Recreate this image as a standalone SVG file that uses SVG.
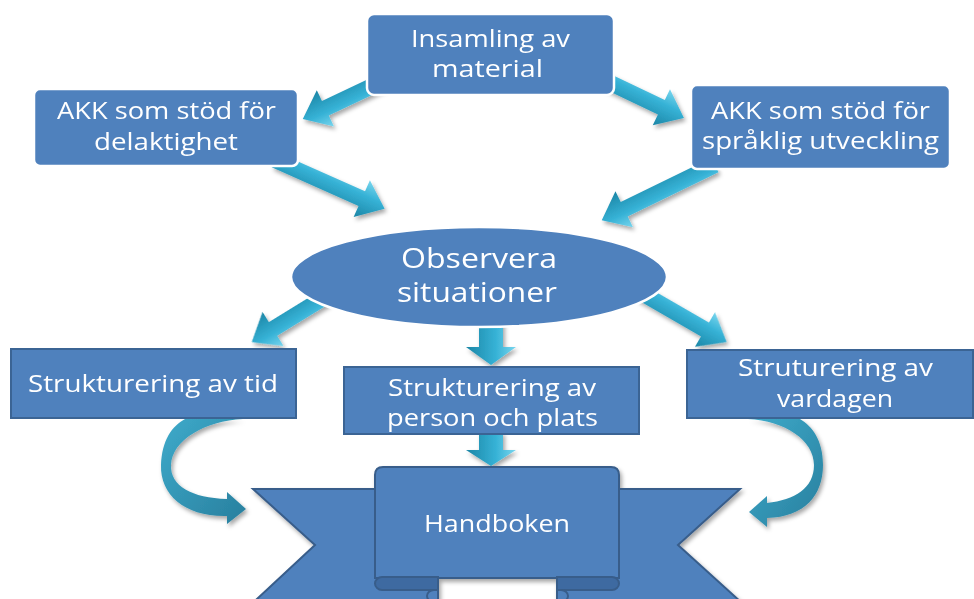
<svg xmlns="http://www.w3.org/2000/svg" width="974" height="599" viewBox="0 0 974 599">
<style>
.box{fill:#4F81BD;stroke:#fff;stroke-width:2.5}
.box2{fill:#4F81BD;stroke:#3B6494;stroke-width:2}
.t{font-family:"Open Sans","Noto Sans","DejaVu Sans",sans-serif;font-size:24px;fill:#fff}
.tb{font-size:27px}
.arr{fill:url(#ag)}
.curve{fill:url(#cg)}
.rib{fill:#4F81BD;stroke:#385D8A;stroke-width:2}
.fold{fill:#3E6AA1;stroke:#385D8A;stroke-width:2}
.curl{fill:none;stroke:#385D8A;stroke-width:2}
</style>
<defs>
<linearGradient id="ag" x1="0" y1="0" x2="0" y2="1">
<stop offset="0" stop-color="#7AD6EE"/>
<stop offset="0.4" stop-color="#36B2D6"/>
<stop offset="1" stop-color="#1C86A6"/>
</linearGradient>
<linearGradient id="cg" x1="0" y1="0" x2="1" y2="1">
<stop offset="0" stop-color="#3EAACA"/>
<stop offset="1" stop-color="#287F9E"/>
</linearGradient>
<filter id="sh" x="-10%" y="-10%" width="130%" height="130%">
<feDropShadow dx="2" dy="3" stdDeviation="2" flood-color="#000" flood-opacity="0.35"/>
</filter>
</defs>
<rect width="974" height="599" fill="#fff"/>

<g id="connectors" filter="url(#sh)">
<polygon class="arr" transform="translate(385,80) rotate(154.6)" points="0,-8 66,-8 66,-20 91,0 66,20 66,8 0,8"/>
<polygon class="arr" transform="translate(600,78) rotate(25.5)" points="0,-8 68,-8 68,-20 93,0 68,20 68,8 0,8"/>
<polygon class="arr" transform="translate(275,160) rotate(24)" points="0,-8 95,-8 95,-20 120,0 95,20 95,8 0,8"/>
<polygon class="arr" transform="translate(715,165) rotate(154)" points="0,-8 101,-8 101,-20 126,0 101,20 101,8 0,8"/>
<polygon class="arr" transform="translate(325,297) rotate(148.4)" points="0,-8 61,-8 61,-20 86,0 61,20 61,8 0,8"/>
<polygon class="arr" transform="translate(640,292) rotate(30)" points="0,-8 75,-8 75,-20 100,0 75,20 75,8 0,8"/>
<polygon class="arr" transform="translate(491,320) rotate(90)" points="0,-12 27,-12 27,-25 45,0 27,25 27,12 0,12"/>
<polygon class="arr" transform="translate(491,432) rotate(90)" points="0,-12 18,-12 18,-25 34,0 18,25 18,12 0,12"/>
<path class="curve" d="M 243 419 C 205 421 172 440 171 465 C 170 486 192 498 227 499 L 227 492 L 246 509 L 227 524 L 227 516 C 185 517 160 495 161 465 C 162 440 172 426 185 419 Z"/>
<path class="curve" d="M 748 419 C 785 421 814 440 814 465 C 814 488 795 500 767 503 L 767 496 L 749 512 L 767 527 L 767 518 C 805 517 823 495 823 465 C 823 440 812 426 800 419 Z"/>
</g>

<g id="insamling">
<rect class="box" x="367" y="14" width="247" height="81" rx="7"/>
<text class="t" x="411" y="47" textLength="159" lengthAdjust="spacingAndGlyphs">Insamling av</text>
<text class="t" x="432" y="77" textLength="111" lengthAdjust="spacingAndGlyphs">material</text>
</g>

<g id="akk-delaktighet">
<rect class="box" x="34" y="89" width="264" height="77" rx="6"/>
<text class="t" x="57" y="119" textLength="219" lengthAdjust="spacingAndGlyphs">AKK som stöd för</text>
<text class="t" x="94" y="150" textLength="144" lengthAdjust="spacingAndGlyphs">delaktighet</text>
</g>

<g id="akk-sprak">
<rect class="box" x="691" y="85" width="259" height="84" rx="6"/>
<text class="t" x="711" y="119" textLength="219" lengthAdjust="spacingAndGlyphs">AKK som stöd för</text>
<text class="t" x="702" y="149" textLength="237" lengthAdjust="spacingAndGlyphs">språklig utveckling</text>
</g>

<g id="observera">
<ellipse class="box" cx="479" cy="277" rx="188" ry="50"/>
<text class="t tb" x="401" y="268" textLength="156" lengthAdjust="spacingAndGlyphs">Observera</text>
<text class="t tb" x="397" y="302" textLength="160" lengthAdjust="spacingAndGlyphs">situationer</text>
</g>

<g id="struktur-tid">
<rect class="box2" x="11" y="349" width="285" height="69"/>
<text class="t" x="28" y="392" textLength="250" lengthAdjust="spacingAndGlyphs">Strukturering av tid</text>
</g>

<g id="struktur-person">
<rect class="box2" x="344" y="367" width="295" height="67"/>
<text class="t" x="388" y="396" textLength="208" lengthAdjust="spacingAndGlyphs">Strukturering av</text>
<text class="t" x="387" y="426" textLength="211" lengthAdjust="spacingAndGlyphs">person och plats</text>
</g>

<g id="struktur-vardagen">
<rect class="box2" x="687" y="350" width="286" height="68"/>
<text class="t" x="738" y="376" textLength="195" lengthAdjust="spacingAndGlyphs">Struturering av</text>
<text class="t" x="777" y="407" textLength="116" lengthAdjust="spacingAndGlyphs">vardagen</text>
</g>

<g id="handboken">
<g filter="url(#sh)">
<polygon class="rib" points="253,489 438,489 438,612 243,612 315,545"/>
<polygon class="rib" points="740,489 557,489 557,612 752,612 678,545"/>
<path class="rib" d="M 375 578 L 375 475 Q 375 467 383 467 L 611 467 Q 619 467 619 475 L 619 578 Z"/>
</g>
<path class="fold" d="M 438 577 L 382 577 A 7 6.5 0 0 0 382 590 L 438 590 Z"/>
<path class="fold" d="M 557 577 L 612 577 A 7 6.5 0 0 1 612 590 L 557 590 Z"/>
<path class="curl" d="M 434 590 A 7 6 0 0 0 434 602"/>
<path class="curl" d="M 561 590 A 7 6 0 0 1 561 602"/>
<text class="t" x="424" y="532" textLength="146" lengthAdjust="spacingAndGlyphs">Handboken</text>
</g>
</svg>
